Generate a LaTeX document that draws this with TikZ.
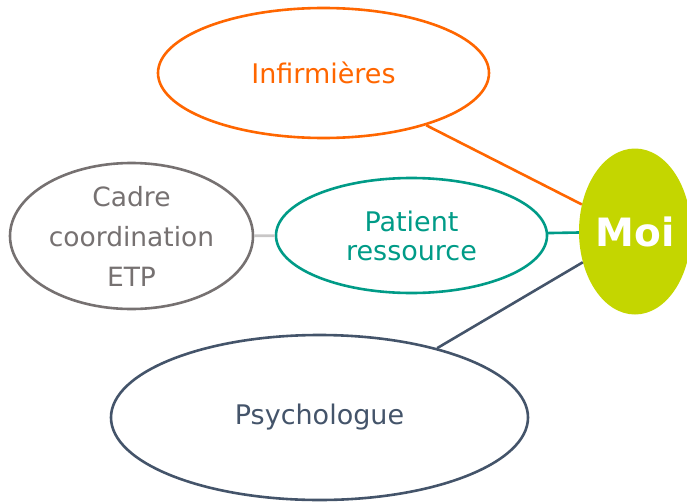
\documentclass[tikz,border=0pt]{standalone}
\usepackage{fontspec}
\setmainfont{DejaVu Sans}
\usetikzlibrary{shapes.geometric}
\definecolor{orangeinf}{RGB}{255,102,0}
\definecolor{tealpat}{RGB}{0,155,135}
\definecolor{graycad}{RGB}{118,113,113}
\definecolor{navypsy}{RGB}{68,84,106}
\definecolor{limemoi}{RGB}{196,214,0}
\tikzset{
  bulle/.style={ellipse, draw, line width=2.6pt, inner sep=0pt, align=center,
    font=\fontsize{27}{32}\selectfont},
  lien/.style={line width=2.6pt}
}

\begin{document}
\begin{tikzpicture}[x=1pt, y=-1pt]
			%%%%% START %%%%%
			\useasboundingbox (0, 0) rectangle (687, 503);
			
			\node[bulle, orangeinf, text=orangeinf, minimum width=331pt, minimum height=130pt] (inf) at (323.5, 73) {Infirmières};
			\node[bulle, graycad, text=graycad, minimum width=243pt, minimum height=146pt, font=\fontsize{26.5}{40}\selectfont] (cadre) at (131.5, 236) {Cadre\\coordination\\ETP};
			\node[bulle, tealpat, text=tealpat, minimum width=271pt, minimum height=115pt, font=\fontsize{27}{29}\selectfont] (pat) at (411.5, 235.5) {Patient\\ressource};
			\node[bulle, navypsy, text=navypsy, minimum width=417pt, minimum height=165pt] (psy) at (319.5, 417.5) {Psychologue};
			
			\node[ellipse, fill=limemoi, text=white, inner sep=0pt, minimum width=112pt, minimum height=166pt, font=\fontsize{39}{42}\selectfont\bfseries] (moi) at (635, 231.5) {Moi};
			
			\draw[lien, orangeinf] (inf) -- (moi);
			\draw[lien, tealpat] (pat) -- (moi);
			\draw[lien, graycad!40] (cadre) -- (pat);
			\draw[lien, navypsy] (psy) -- (moi);
			
			%%%%% END %%%%%
\end{tikzpicture}
\end{document}
